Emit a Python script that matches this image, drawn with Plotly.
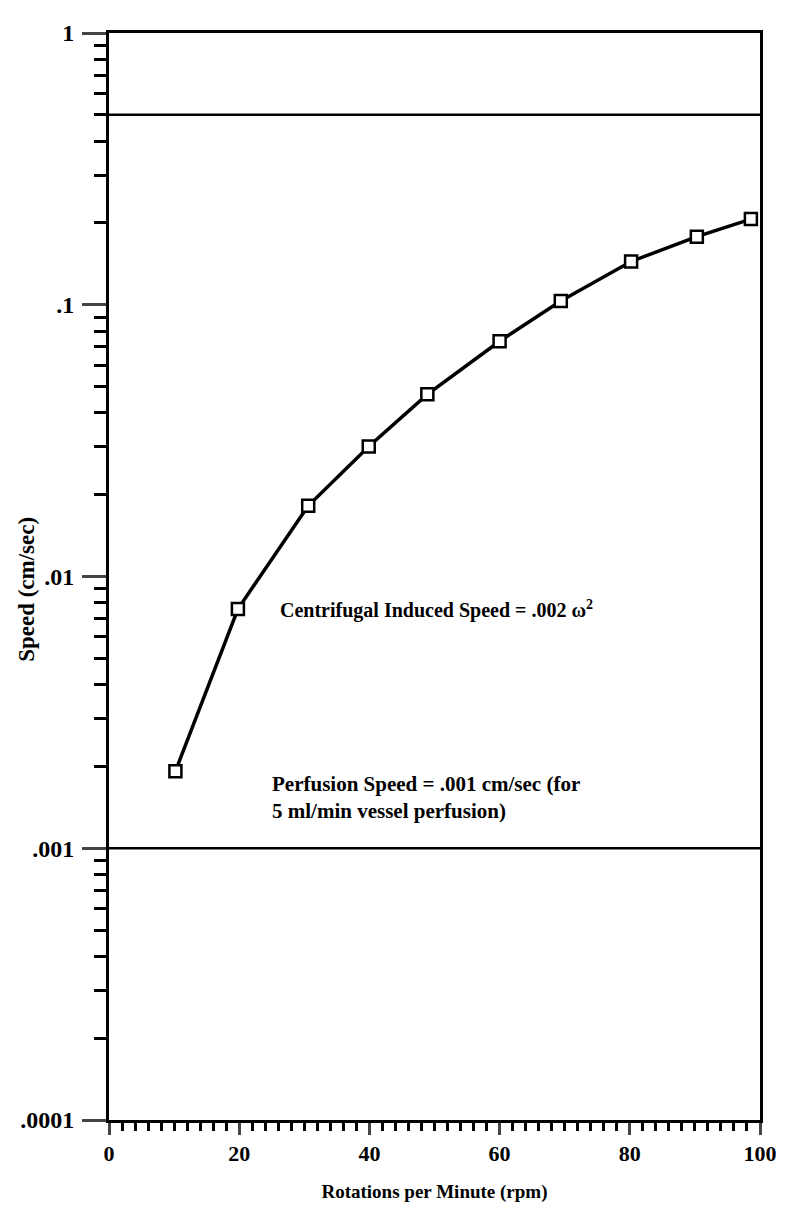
import plotly.graph_objects as go

# Data
rpm = [10.2, 19.8, 30.6, 39.9, 48.9, 60.0, 69.4, 80.2, 90.3, 98.6]
speed = [0.00192, 0.00759, 0.0182, 0.0301, 0.0468, 0.0734, 0.1033, 0.1443, 0.178, 0.2066]
ref_upper = 0.5
perfusion_speed = 0.001
y_tickvals = [0.0001, 0.001, 0.01, 0.1, 1]
y_ticktext = [".0001", ".001", ".01", ".1", "1"]
x_tickvals = [0, 20, 40, 60, 80, 100]

FONT = "Liberation Serif"

minor_y = [m * d for d in y_tickvals[:-1] for m in range(2, 10)]

fig = go.Figure()

fig.add_trace(go.Scatter(
    x=rpm, y=speed, mode="lines+markers",
    line=dict(color="black", width=3.5),
    marker=dict(symbol="square", size=12, color="white",
                line=dict(color="black", width=2.5)),
    showlegend=False,
))

for yv in (ref_upper, perfusion_speed):
    fig.add_shape(type="line", xref="paper", x0=0, x1=1, yref="y", y0=yv, y1=yv,
                  line=dict(color="black", width=2.5))

fig.update_layout(
    width=781, height=1204,
    margin=dict(l=101, r=19, t=12, b=88),
    paper_bgcolor="white", plot_bgcolor="white",
    font=dict(family=FONT, color="black", size=18),
    xaxis=dict(
        range=[0, 100], tickvals=x_tickvals, ticks="outside", ticklen=12, tickwidth=3,
        showline=True, linecolor="black", linewidth=3, mirror=True,
        showgrid=False, zeroline=False,
        tickfont=dict(family=FONT, size=22, color="black", weight="bold"),
        minor=dict(dtick=2, ticks="outside", ticklen=8, tickwidth=2.5, tickcolor="black"),
        title=dict(text="<b>Rotations per Minute (rpm)</b>", standoff=20,
                   font=dict(family=FONT, size=19, color="black")),
    ),
    yaxis=dict(
        type="log", range=[-4, 0], tickmode="array", tickvals=y_tickvals, ticktext=y_ticktext,
        ticks="outside", ticklen=24, tickwidth=3, ticklabelstandoff=3,
        showline=True, linecolor="black", linewidth=3, mirror=True,
        showgrid=False, zeroline=False,
        tickfont=dict(family=FONT, size=24, color="black", weight="bold"),
        minor=dict(tickmode="array", tickvals=minor_y, ticks="outside", ticklen=12,
                   tickwidth=3, tickcolor="black", showgrid=False),
    ),
    annotations=[
        dict(text="<b>Speed (cm/sec)</b>", textangle=-90, xref="paper", yref="paper",
             x=-0.127, y=0.488, xanchor="center", yanchor="middle", showarrow=False,
             font=dict(family=FONT, size=23, color="black")),
        dict(text="<b>Centrifugal Induced Speed = .002 ω<sup>2</sup></b>", xref="x", yref="y",
             x=25.9, y=-2.123, xanchor="left", yanchor="middle", showarrow=False,
             font=dict(family=FONT, size=20, color="black")),
        dict(text="<b>Perfusion Speed = .001 cm/sec (for<br>5 ml/min vessel perfusion)</b>",
             xref="x", yref="y", x=24.8, y=-2.815, xanchor="left", yanchor="middle",
             align="left", showarrow=False,
             font=dict(family=FONT, size=21, color="black")),
    ],
)

fig.write_html("out.html")
